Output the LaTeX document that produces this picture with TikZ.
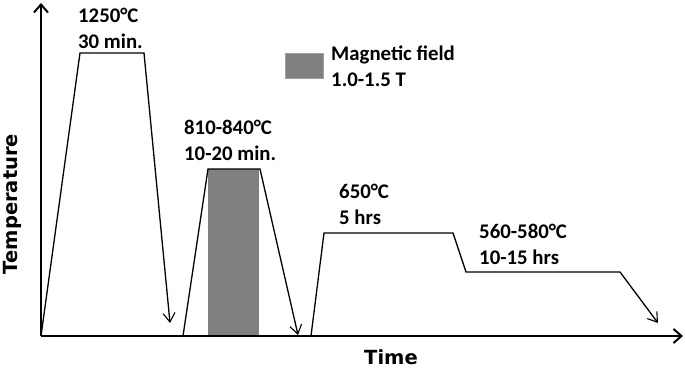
\documentclass[tikz,border=0pt]{standalone}
\usepackage{fontspec}
\setmainfont{Carlito}
\newfontfamily\axisfont{DejaVu Sans}
\usetikzlibrary{arrows.meta}
\definecolor{htgray}{RGB}{128,128,128}
\definecolor{htedge}{RGB}{160,160,160}

\begin{document}
\begin{tikzpicture}[x=1pt,y=1pt,
    lbl/.style={anchor=west, align=left, inner sep=0pt, font=\fontsize{20.8}{26}\selectfont\bfseries},
    curve/.style={line width=1.3pt, line join=miter},
    cool/.style={curve, -{Straight Barb[length=9pt,width=12pt,line width=1.1pt]}},
    axis/.style={line width=2.6pt, -{Straight Barb[length=8pt,width=14pt,line width=2pt]}}]
    \useasboundingbox (0,0) rectangle (685,370);
    % magnetic field window
    \fill[htgray] (208,34) rectangle (259,201);
    % axes
    \coordinate (o) at (41,34);
    \coordinate (ytop) at (41,367);
    \coordinate (xend) at (683,34);
    \draw[axis] (o) -- (ytop);
    \draw[axis] (o) -- (xend);
    \node[rotate=90, inner sep=0pt, font=\axisfont\fontsize{19.5}{22}\selectfont\bfseries] (ylab) at (12.5,166) {Temperature};
    \node[inner sep=0pt, font=\axisfont\fontsize{19.5}{22}\selectfont\bfseries] (xlab) at (391,13) {Time};
    % solution treatment
    \coordinate (a1) at (80,317);
    \coordinate (a2) at (144,317);
    \coordinate (a3) at (170,47);
    \draw[cool] (o) -- (a1) -- (a2) -- (a3);
    % magnetic annealing
    \coordinate (b0) at (183,34);
    \coordinate (b1) at (208,201);
    \coordinate (b2) at (260,201);
    \coordinate (b3) at (298,35);
    \draw[cool] (b0) -- (b1) -- (b2) -- (b3);
    % ageing
    \coordinate (c0) at (311,34);
    \coordinate (c1) at (324,137);
    \coordinate (c2) at (453,137);
    \coordinate (c3) at (466,98);
    \coordinate (c4) at (620,98);
    \coordinate (c5) at (658,47);
    \draw[cool] (c0) -- (c1) -- (c2) -- (c3) -- (c4) -- (c5);
    % labels
    \node[lbl] (t1) at (78,342) {1250°C\\30 min.};
    \node[lbl] (t2) at (184,230) {810-840°C\\10-20 min.};
    \node[lbl] (t3) at (339,166) {650°C\\5 hrs};
    \node[lbl] (t4) at (479,126) {560-580°C\\10-15 hrs};
    % legend
    \node[draw=htedge, fill=htgray, line width=0.8pt, minimum width=38pt, minimum height=25pt, inner sep=0pt] (key) at (304,304.5) {};
    \node[lbl] (keytxt) at (331,304) {Magnetic field\\1.0-1.5 T};
  \end{tikzpicture}
\end{document}
